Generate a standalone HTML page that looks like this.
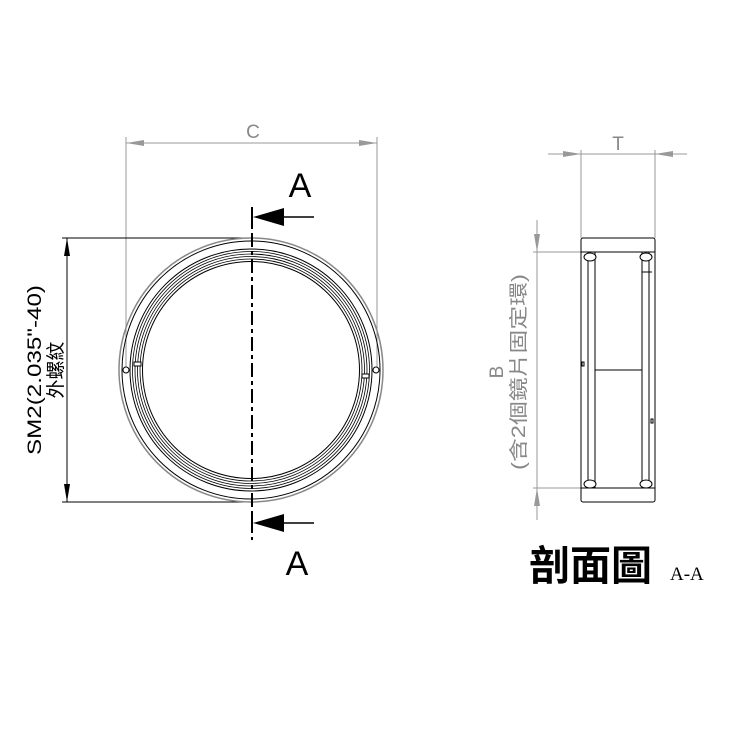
<!DOCTYPE html>
<html><head><meta charset="utf-8"><style>body{margin:0;background:#fff}svg{display:block}</style></head><body>
<svg width="752" height="738" viewBox="0 0 752 738" xmlns="http://www.w3.org/2000/svg">
<rect width="752" height="738" fill="#fff"/>
<g stroke="#999" stroke-width="1" fill="none">
<line x1="126" y1="137" x2="126" y2="370"/><line x1="377" y1="137" x2="377" y2="370"/>
<line x1="126" y1="143" x2="377" y2="143"/>
<line x1="581" y1="150" x2="581" y2="238"/><line x1="655" y1="150" x2="655" y2="238"/>
<line x1="548" y1="154" x2="687" y2="154"/>
<line x1="537" y1="220" x2="537" y2="520"/>
<line x1="533" y1="252" x2="583" y2="252"/><line x1="533" y1="488" x2="583" y2="488"/>
</g>
<g fill="#999">
<polygon points="126,143 144,140 144,146"/><polygon points="377,143 359,140 359,146"/>
<polygon points="581,154 563,151 563,157"/><polygon points="655,154 673,151 673,157"/>
<polygon points="537,252 534,234 540,234"/><polygon points="537,488 534,506 540,506"/>
</g>
<g font-family="Liberation Sans, sans-serif" fill="#888" font-size="19">
<text x="253" y="138" text-anchor="middle">C</text>
<text x="618" y="150" text-anchor="middle">T</text>
<text transform="translate(503,372) rotate(-90)" text-anchor="middle">B</text>
<text transform="translate(525,372) rotate(-90)" text-anchor="middle" font-family="Liberation Sans, Noto Sans CJK TC, sans-serif" textLength="196" lengthAdjust="spacingAndGlyphs">(含2個鏡片固定環)</text>
</g>
<g stroke="#000" stroke-width="1" fill="none">
<line x1="62" y1="238" x2="253" y2="238"/><line x1="62" y1="502" x2="253" y2="502"/>
<line x1="67" y1="238" x2="67" y2="502"/>
</g>
<polygon points="67,238 64,256 70,256" fill="#000"/><polygon points="67,502 64,484 70,484" fill="#000"/>
<g font-family="Liberation Sans, Noto Sans CJK TC, sans-serif" fill="#000" font-size="19">
<text transform="translate(41,370) rotate(-90)" text-anchor="middle" textLength="170" lengthAdjust="spacingAndGlyphs">SM2(2.035"-40)</text>
<text transform="translate(62,370) rotate(-90)" text-anchor="middle">外螺紋</text>
</g>
<g fill="none" stroke="#000">
<circle cx="251" cy="370" r="132" stroke="#888" stroke-width="1.5"/>
<circle cx="251" cy="370" r="129" stroke-width="1"/>
<circle cx="251" cy="370" r="121" stroke-width="1"/>
<circle cx="251" cy="370" r="118.5" stroke-width="0.8"/>
<circle cx="251" cy="370" r="116" stroke-width="0.8"/>
<circle cx="251" cy="370" r="113.5" stroke-width="0.8"/>
<circle cx="251" cy="370" r="111" stroke-width="0.8"/>
<circle cx="251" cy="370" r="108.5" stroke-width="1"/>
<circle cx="126" cy="370" r="3" fill="#fff"/><circle cx="376" cy="370" r="3" fill="#fff"/>
<rect x="134" y="362" width="7" height="4" fill="#fff"/><rect x="362" y="374" width="7" height="4" fill="#fff"/>
</g>
<line x1="252" y1="207" x2="252" y2="540" stroke="#000" stroke-width="2" stroke-dasharray="14,4,4,4"/>
<line x1="252" y1="207" x2="252" y2="225" stroke="#000" stroke-width="2"/>
<line x1="252" y1="515" x2="252" y2="532" stroke="#000" stroke-width="2"/>
<line x1="280" y1="217" x2="314" y2="217" stroke="#000" stroke-width="1.5"/>
<polygon points="253,217 284,208 284,226" fill="#000"/>
<line x1="280" y1="523" x2="314" y2="523" stroke="#000" stroke-width="1.5"/>
<polygon points="253,523 284,514 284,532" fill="#000"/>
<g font-family="Liberation Sans, sans-serif" font-size="34" fill="#000">
<text x="300" y="197" text-anchor="middle">A</text>
<text x="297" y="575" text-anchor="middle">A</text>
</g>
<g fill="none" stroke="#000" stroke-width="1">
<rect x="581" y="238" width="74" height="264" rx="2"/>
<line x1="581" y1="252" x2="655" y2="252"/><line x1="581" y1="488" x2="655" y2="488"/>
<line x1="588" y1="252" x2="588" y2="488"/><line x1="595" y1="252" x2="595" y2="488"/>
<line x1="642" y1="252" x2="642" y2="488"/><line x1="649" y1="252" x2="649" y2="488"/>
<line x1="595" y1="370" x2="642" y2="370"/>
<line x1="642" y1="272" x2="652" y2="272"/>
<ellipse cx="590" cy="257" rx="6" ry="4" fill="#fff"/><ellipse cx="646" cy="257" rx="6" ry="4" fill="#fff"/>
<ellipse cx="590" cy="484" rx="6" ry="4" fill="#fff"/><ellipse cx="646" cy="484" rx="6" ry="4" fill="#fff"/>
<rect x="582" y="362" width="2" height="4"/><rect x="651" y="419" width="2" height="4"/>
</g>
<text x="529" y="580" font-family="Liberation Sans, Noto Sans CJK TC, sans-serif" font-weight="bold" font-size="41" fill="#000">剖面圖</text>
<text x="670" y="580" font-family="Liberation Serif, serif" font-size="19" fill="#000">A-A</text>
</svg>
</body></html>
